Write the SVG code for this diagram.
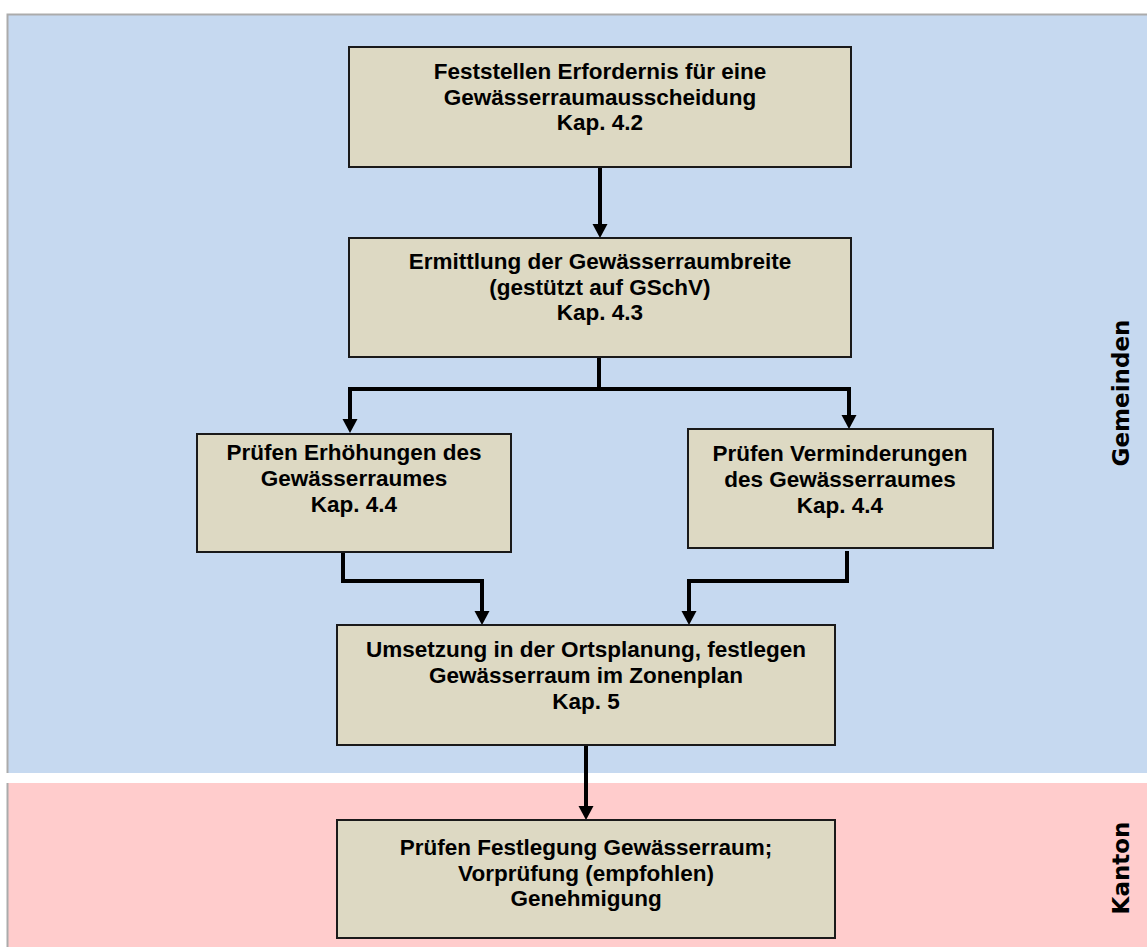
<svg xmlns="http://www.w3.org/2000/svg" width="1147" height="947" viewBox="0 0 1147 947">
<style>
.box{fill:#DDD9C3;stroke:#1a1a1a;stroke-width:2}
.t{font-family:"Liberation Sans",Arial,sans-serif;font-weight:bold;font-size:22.5px;fill:#000;text-anchor:middle}
.side{font-family:"DejaVu Sans",Verdana,sans-serif;font-weight:bold;font-size:23px;fill:#000;text-anchor:middle}
.c{fill:none;stroke:#000;stroke-width:4}
</style>
<rect width="1147" height="947" fill="#fff"/>
<g id="bg">
<rect x="7" y="14" width="1140" height="759" fill="#C6D9F0"/>
<rect x="7" y="783" width="1140" height="164" fill="#FFCCCC"/>
<path d="M7.5,947 V783 M7.5,773 V14.5 H1147" fill="none" stroke="#ABABAB" stroke-width="2"/>
</g>
<g id="lanes">
<text class="side" transform="translate(1129,393) rotate(-90)">Gemeinden</text>
<text class="side" transform="translate(1129,868) rotate(-90)">Kanton</text>
</g>
<g id="connectors">
<path class="c" d="M600,167 V224"/>
<path d="M592.5,224 H607.5 L600,238 Z"/>
<path class="c" d="M599,357 V389 M350,389 H849 M350,387 V419 M849,387 V415"/>
<path d="M342.5,419 H357.5 L350,433 Z"/>
<path d="M841.5,415 H856.5 L849,429 Z"/>
<path class="c" d="M343,553 V581 H482 V611"/>
<path d="M474.5,611 H489.5 L482,625 Z"/>
<path class="c" d="M847,551 V581 H689 V611"/>
<path d="M681.5,611 H696.5 L689,625 Z"/>
<path class="c" d="M586,745 V806"/>
<path d="M578.5,806 H593.5 L586,820 Z"/>
</g>
<g id="n1">
<rect class="box" x="349" y="47" width="502" height="120"/>
<text class="t" x="600" y="79">Feststellen Erfordernis für eine</text>
<text class="t" x="600" y="104.5">Gewässerraumausscheidung</text>
<text class="t" x="600" y="130">Kap. 4.2</text>
</g>
<g id="n2">
<rect class="box" x="349" y="238" width="502" height="119"/>
<text class="t" x="600" y="269">Ermittlung der Gewässerraumbreite</text>
<text class="t" x="600" y="294.5">(gestützt auf GSchV)</text>
<text class="t" x="600" y="320">Kap. 4.3</text>
</g>
<g id="n3">
<rect class="box" x="197" y="434" width="314" height="118"/>
<text class="t" x="354" y="460">Prüfen Erhöhungen des</text>
<text class="t" x="354" y="486">Gewässerraumes</text>
<text class="t" x="354" y="512">Kap. 4.4</text>
</g>
<g id="n4">
<rect class="box" x="688" y="429" width="305" height="119"/>
<text class="t" x="840" y="461">Prüfen Verminderungen</text>
<text class="t" x="840" y="487">des Gewässerraumes</text>
<text class="t" x="840" y="513">Kap. 4.4</text>
</g>
<g id="n5">
<rect class="box" x="337" y="625" width="498" height="120"/>
<text class="t" x="586" y="657">Umsetzung in der Ortsplanung, festlegen</text>
<text class="t" x="586" y="683">Gewässerraum im Zonenplan</text>
<text class="t" x="586" y="709">Kap. 5</text>
</g>
<g id="n6">
<rect class="box" x="337" y="820" width="498" height="118"/>
<text class="t" x="586" y="855">Prüfen Festlegung Gewässerraum;</text>
<text class="t" x="586" y="880.5">Vorprüfung (empfohlen)</text>
<text class="t" x="586" y="906">Genehmigung</text>
</g>
</svg>
